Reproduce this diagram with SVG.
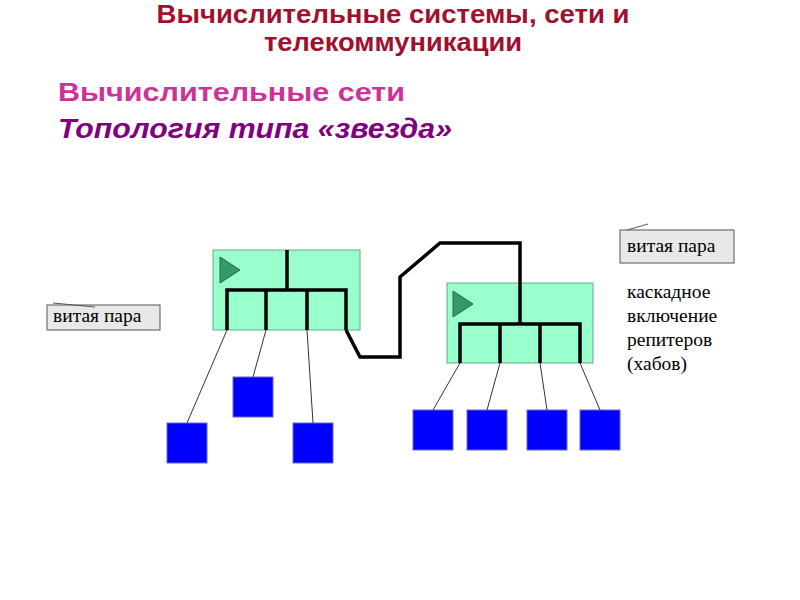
<svg xmlns="http://www.w3.org/2000/svg" width="800" height="600" viewBox="0 0 800 600">
<style>
.t1{font-family:"Liberation Sans",Arial,sans-serif;font-weight:bold;font-size:25px;fill:#A0102F;text-anchor:middle}
.t2{font-family:"Liberation Sans",Arial,sans-serif;font-weight:bold;font-size:26px;fill:#CC3399}
.t3{font-family:"Liberation Sans",Arial,sans-serif;font-weight:bold;font-style:italic;font-size:27px;fill:#800080}
.hub{fill:#99FFCC;stroke:#66AA88;stroke-width:1}
.tri{fill:#339966;stroke:#226644;stroke-width:1}
.bus{fill:none;stroke:#000;stroke-width:3.5;stroke-linejoin:miter}
.leaf{fill:#0000FF;stroke:#6666CC;stroke-width:1}
.wire{stroke:#333;stroke-width:1;fill:none}
.lbl{fill:#E8E8E8;stroke:#555;stroke-width:1}
.lt{font-family:"Liberation Serif","Times New Roman",serif;font-size:19.5px;fill:#000}
</style>
<g id="title">
<text class="t1" x="393" y="23" textLength="473" lengthAdjust="spacingAndGlyphs">Вычислительные системы, сети и</text>
<text class="t1" x="393" y="51" textLength="258" lengthAdjust="spacingAndGlyphs">телекоммуникации</text>
<text class="t2" x="58" y="101" textLength="347" lengthAdjust="spacingAndGlyphs">Вычислительные сети</text>
<text class="t3" x="58" y="137.5" textLength="394" lengthAdjust="spacingAndGlyphs">Топология типа «звезда»</text>
</g>
<g id="hub1">
<rect class="hub" x="213" y="250" width="147" height="80"/>
<polygon class="tri" points="220,257 240,270 220,283"/>
<path class="bus" d="M287,250 V290 M227,330 V290 H346 V330 M266,290 V330 M307,290 V330"/>
</g>
<g id="hub2">
<rect class="hub" x="447" y="283" width="146" height="80"/>
<polygon class="tri" points="453,291 473,304 453,317"/>
<path class="bus" d="M520,283 V324 M460,363 V324 H580 V363 M500,324 V363 M540,324 V363"/>
</g>
<g id="leaves">
<rect id="pc1" class="leaf" x="167" y="423" width="40" height="40"/>
<rect id="pc2" class="leaf" x="233" y="377" width="40" height="40"/>
<rect id="pc3" class="leaf" x="293" y="423" width="40" height="40"/>
<rect id="pc4" class="leaf" x="413" y="410" width="40" height="40"/>
<rect id="pc5" class="leaf" x="467" y="410" width="40" height="40"/>
<rect id="pc6" class="leaf" x="527" y="410" width="40" height="40"/>
<rect id="pc7" class="leaf" x="580" y="410" width="40" height="40"/>
</g>
<g id="connectors">
<path class="bus" d="M346,330 L360,357 H400 V277 L440,243 H520 V283"/>
<line class="wire" x1="227" y1="330" x2="187" y2="423"/>
<line class="wire" x1="266" y1="330" x2="253" y2="377"/>
<line class="wire" x1="307" y1="330" x2="313" y2="423"/>
<line class="wire" x1="460" y1="363" x2="433" y2="410"/>
<line class="wire" x1="500" y1="363" x2="487" y2="410"/>
<line class="wire" x1="540" y1="363" x2="547" y2="410"/>
<line class="wire" x1="580" y1="363" x2="600" y2="410"/>
</g>
<g id="label1">
<rect class="lbl" x="47" y="305" width="113" height="25"/>
<line x1="53" y1="303" x2="95" y2="307" stroke="#555" stroke-width="1"/>
<text class="lt" x="53" y="322">витая пара</text>
</g>
<g id="label2">
<rect class="lbl" x="620" y="230" width="114" height="33"/>
<line x1="627" y1="230" x2="648" y2="224" stroke="#555" stroke-width="1"/>
<text class="lt" x="627" y="252">витая пара</text>
</g>
<g id="note">
<text class="lt" x="627" y="298">каскадное</text>
<text class="lt" x="627" y="322">включение</text>
<text class="lt" x="627" y="346">репитеров</text>
<text class="lt" x="627" y="370">(хабов)</text>
</g>
</svg>
